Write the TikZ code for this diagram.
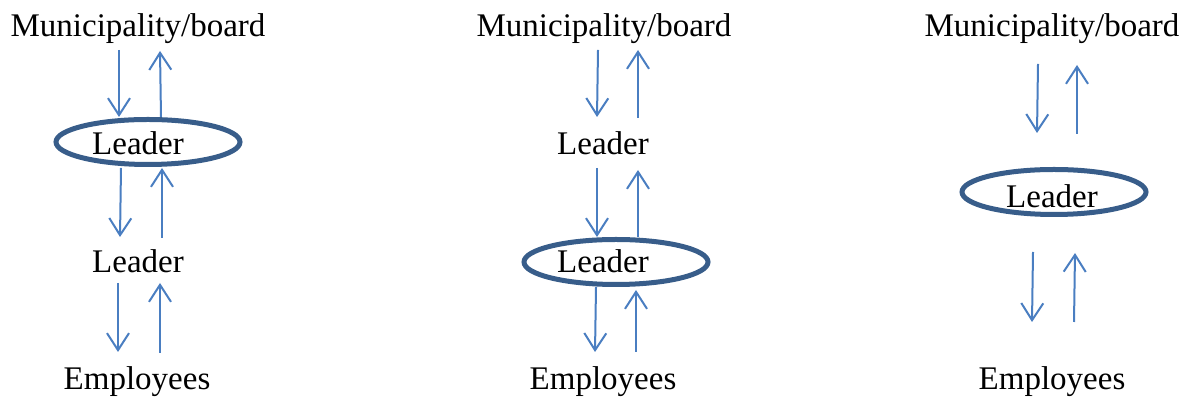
\documentclass[tikz,border=0pt]{standalone}
\usepackage{fontspec}
\setmainfont{Liberation Serif}
\usetikzlibrary{arrows.meta, shapes.geometric}

\definecolor{flowblue}{RGB}{74,126,193}
\definecolor{ringblue}{RGB}{56,93,138}

\begin{document}
\begin{tikzpicture}[x=0.5pt, y=-0.5pt,
    lbl/.style={anchor=base, inner sep=0pt, font=\fontsize{16.5}{20}\selectfont},
    flow/.style={-{Straight Barb[length=8.5pt, width=11pt]}, flowblue, line width=1pt},
    ring/.style={draw=ringblue, line width=2.5pt, ellipse, inner sep=0pt,
      minimum width=92pt, minimum height=22.5pt}]
        \useasboundingbox (0,0) rectangle (1188,399);

        % Left: leader at the top level
        \node[lbl] (mun1) at (138,37) {Municipality/board};
        \node[ring] (ring1) at (148,142) {};
        \node[lbl] (lead1a) at (138,155) {Leader};
        \node[lbl] (lead1b) at (138,273) {Leader};
        \node[lbl] (emp1) at (137,390) {Employees};

        % Middle: leader at the lower level
        \node[lbl] (mun2) at (604,37) {Municipality/board};
        \node[lbl] (lead2a) at (603,155) {Leader};
        \node[ring] (ring2) at (616,262) {};
        \node[lbl] (lead2b) at (603,273) {Leader};
        \node[lbl] (emp2) at (603,390) {Employees};

        % Right: one leader in between
        \node[lbl] (mun3) at (1052,37) {Municipality/board};
        \node[ring] (ring3) at (1054,192) {};
        \node[lbl] (lead3) at (1052,208) {Leader};
        \node[lbl] (emp3) at (1052,390) {Employees};

        % Arrows: name/start x/start y/end x/end y
        \foreach \n/\xa/\ya/\xb/\yb in {
            a1d/119/50/119/117, a1u/161/117/160/51,
            b1d/121/168/120/237, b1u/162/238/162/168,
            c1d/118/283/118/352, c1u/160/353/160/283,
            a2d/598/50/597/117, a2u/638/118/638/50,
            b2d/597/168/597/237, b2u/638/237/638/170,
            c2d/596/287/595/352, c2u/636/352/636/290,
            a3d/1038/64/1037/133, a3u/1077/134/1077/65,
            b3d/1033/252/1032/322, b3u/1074/322/1075/253} {
          \coordinate (\n s) at (\xa,\ya);
          \coordinate (\n e) at (\xb,\yb);
          \draw[flow] (\n s) -- (\n e);
        }
      \end{tikzpicture}
\end{document}
